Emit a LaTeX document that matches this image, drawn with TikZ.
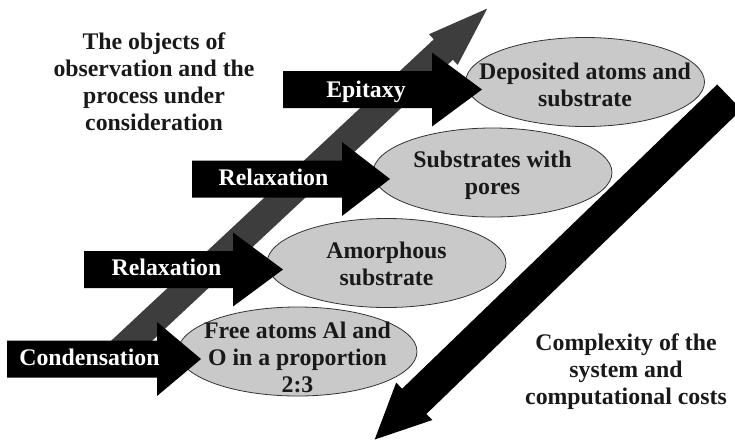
\documentclass[tikz,border=0pt]{standalone}
\usepackage{fontspec}
\setmainfont{Liberation Serif}
\usetikzlibrary{shapes.geometric}

% block arrow pointing right: left x, centre y, start of head, tip
\newcommand\procarrow[4]{%
  \fill[procbody] (#1,#2-18.5) -- (#3,#2-18.5) -- (#3,#2-37) -- (#4,#2)
    -- (#3,#2+37) -- (#3,#2+18.5) -- (#1,#2+18.5) -- cycle;}

\begin{document}
\begin{tikzpicture}[x=1pt,y=-1pt,
  every node/.style={font=\bfseries\fontsize{23.8}{27}\selectfont},
  stage/.style={ellipse, draw=black!80, line width=0.8pt, fill=black!21,
    inner sep=0pt, minimum width=239pt, minimum height=89pt},
  stagetext/.style={align=center, text=black!90, inner sep=0pt},
  procbody/.style={fill=black},
  proclabel/.style={text=white, anchor=base, inner sep=0pt},
  caption/.style={align=center, text=black!90, inner sep=0pt}]
\useasboundingbox (0,0) rectangle (735,440);

% rising arrow: objects of observation
\begin{scope}[shift={(133.5,339)}, rotate=43.05]
  \fill[black!76] (-20pt,14pt) -- (424pt,14pt) -- (424pt,21pt) -- (484pt,0pt)
    -- (424pt,-21pt) -- (424pt,-14pt) -- (-20pt,-14pt) -- cycle;
\end{scope}

% falling arrow: complexity and cost
\begin{scope}[shift={(602,220)}, rotate=224.0]
  \fill[black] (-177pt,17.5pt) -- (261pt,17.5pt) -- (261pt,26pt) -- (316pt,0pt)
    -- (261pt,-26pt) -- (261pt,-17.5pt) -- (-177pt,-17.5pt) -- cycle;
\end{scope}

% modelled systems
\node[stage] (e1) at (585,82) {};
\node[stage] (e2) at (492.5,172.5) {};
\node[stage] (e3) at (386.5,263) {};
\node[stage] (e4) at (297.5,351.5) {};
\node[stagetext, yshift=-3pt] (t1) at (e1) {Deposited atoms and\\substrate};
\node[stagetext, yshift=-3pt] (t2) at (e2) {Substrates with\\pores};
\node[stagetext, yshift=-1pt] (t3) at (e3) {Amorphous\\substrate};
\node[stagetext, yshift=-6pt] (t4) at (e4) {Free atoms Al and\\O in a proportion\\2:3};

% processes
\procarrow{283}{89.5}{432}{482}
\procarrow{192}{179}{342}{390}
\procarrow{84}{269.5}{233}{283}
\procarrow{7}{359}{157}{201}
\node[proclabel] (p1) at (366,97) {Epitaxy};
\node[proclabel] (p2) at (273.5,185) {Relaxation};
\node[proclabel] (p3) at (166.5,275) {Relaxation};
\node[proclabel] (p4) at (89.5,365) {Condensation};

% axis captions
\node[caption] (objects) at (154,82)
  {The objects of\\observation and the\\process under\\consideration};
\node[caption] (costs) at (626,372)
  {Complexity of the\\system and\\computational costs};
\end{tikzpicture}
\end{document}
